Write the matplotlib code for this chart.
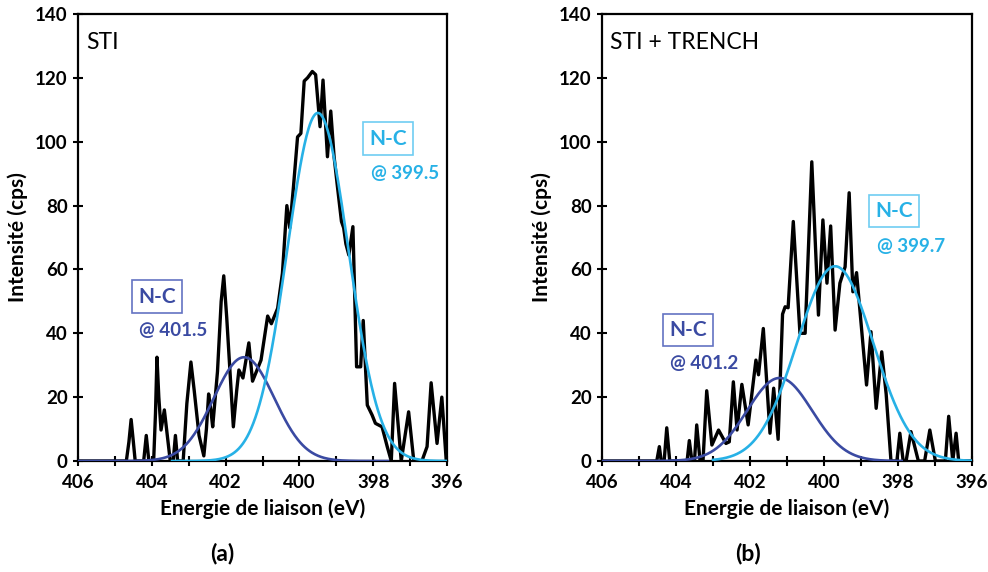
import matplotlib
matplotlib.use("Agg")
import matplotlib.pyplot as plt
import numpy as np

plt.rcParams['font.family'] = ['Lato', 'DejaVu Sans']

# ---------------- data ----------------
# panel (a) STI : raw spectrum
energy_a = [406.0, 404.69, 404.62, 404.56, 404.50, 404.45, 404.22, 404.15, 404.08, 403.95,
            403.90, 403.86, 403.81, 403.75, 403.66, 403.58, 403.50, 403.42, 403.36, 403.30,
            403.15, 403.05, 402.94, 402.85, 402.72, 402.59, 402.52, 402.46, 402.40, 402.35,
            402.22, 402.12, 402.05, 401.97, 401.86, 401.79, 401.70, 401.64, 401.53, 401.37,
            401.27, 401.04, 400.86, 400.76, 400.59, 400.46, 400.34, 400.26, 400.16, 400.05,
            399.96, 399.87, 399.78, 399.65, 399.56, 399.44, 399.36, 399.24, 399.15, 399.06,
            398.97, 398.86, 398.80, 398.74, 398.66, 398.55, 398.45, 398.34, 398.27, 398.16,
            398.03, 397.94, 397.76, 397.62, 397.51, 397.42, 397.24, 397.04, 396.90, 396.68,
            396.54, 396.43, 396.27, 396.14, 396.02]
counts_a = [0, 0, 6, 13, 6, 0, 0, 8, 0, 0,
            15, 32.5, 20, 9.7, 16, 8, 0, 0, 8, 0,
            0, 18, 31, 22, 8, 1.6, 10, 21, 16, 10.7,
            28, 50, 58, 45, 24, 10.7, 22, 28.5, 26, 37,
            25, 31.6, 45.4, 43, 47.8, 58.8, 80, 73, 86, 101.5,
            102.6, 119, 120, 122, 121, 104.7, 119.3, 95.3, 109.6, 95.3,
            86, 75, 73, 68, 64.5, 73.4, 29.5, 29.5, 44, 17.5,
            14.4, 11.8, 10.7, 4.5, 0, 24.3, 0, 15.4, 0, 0,
            4.5, 24.5, 5.5, 20, 0]

# panel (b) STI + TRENCH : raw spectrum
energy_b = [406.0, 404.52, 404.45, 404.40, 404.32, 404.25, 404.17, 403.70, 403.64, 403.57,
            403.50, 403.44, 403.35, 403.27, 403.17, 403.03, 402.85, 402.65, 402.56, 402.45,
            402.35, 402.22, 402.05, 401.84, 401.77, 401.64, 401.46, 401.36, 401.24, 401.12,
            401.05, 400.97, 400.83, 400.65, 400.51, 400.33, 400.15, 400.03, 399.92, 399.82,
            399.70, 399.57, 399.43, 399.32, 399.22, 399.12, 398.85, 398.73, 398.59, 398.44,
            398.32, 398.19, 398.03, 397.95, 397.86, 397.78, 397.65, 397.45, 397.28, 397.14,
            396.99, 396.72, 396.63, 396.52, 396.43, 396.36, 396.0]
counts_b = [0, 0, 4.5, 0, 0, 10.4, 0, 0, 6.4, 0,
            0, 11.3, 0, 0, 22, 5, 9.7, 5.5, 6, 24.8,
            9.7, 24, 11.3, 31.6, 27, 41.5, 8.7, 22.8, 6.8, 46,
            48.3, 48, 75, 40, 40, 93.7, 45.7, 75.5, 55.7, 73.6,
            41, 55.7, 60.8, 84, 53, 59, 23.8, 40.5, 16.5, 34.2,
            21, 0, 0, 8.7, 0, 0, 9.2, 0, 0, 9.7,
            0, 0, 14, 0, 8.7, 0, 0]

# fitted N-C components: (centre eV, height cps, sigma eV, drawn from, drawn to)
fit_a_low = (401.5, 32.5, 0.82, 406.0, 397.6)
fit_a_high = (399.5, 109.0, 0.83, 403.45, 396.0)
fit_b_low = (401.2, 26.0, 0.88, 406.0, 397.9)
fit_b_high = (399.7, 61.0, 1.03, 403.0, 396.0)

panel_titles = ["STI", "STI + TRENCH"]
panel_tags = ["(a)", "(b)"]
xticks = [406, 404, 402, 400, 398, 396]
yticks = [0, 20, 40, 60, 80, 100, 120, 140]

DARK = "#3a4aa2"
LIGHT = "#27b1e6"
DARK_EDGE = "#6473c2"
LIGHT_EDGE = "#6fcdf2"

fig = plt.figure(figsize=(9.88, 5.72), dpi=100)
axA = fig.add_axes([78 / 988, 1 - 461 / 572, 369 / 988, 447 / 572])
axB = fig.add_axes([602 / 988, 1 - 461 / 572, 370 / 988, 447 / 572])


def gauss_curve(params):
    c, h, s, x0, x1 = params
    x = np.linspace(x0, x1, 400)
    return x, h * np.exp(-0.5 * ((x - c) / s) ** 2)


def draw(ax, e, cts, f_low, f_high, title, lbl_low, lbl_high):
    ax.plot(e, cts, color="black", lw=2.4, solid_joinstyle="round", zorder=2)
    x, y = gauss_curve(f_low)
    ax.plot(x, y, color=DARK, lw=1.9, zorder=3)
    x, y = gauss_curve(f_high)
    ax.plot(x, y, color=LIGHT, lw=1.9, zorder=4)
    ax.set_xlim(406, 396)
    ax.set_ylim(0, 140)
    ax.set_xticks(xticks)
    ax.set_xticks(np.arange(396, 407, 1), minor=True)
    ax.set_yticks(yticks)
    ax.tick_params(axis="both", which="both", direction="inout", width=1.5,
                   labelsize=13.5, pad=4)
    ax.tick_params(axis="x", which="both", pad=6)
    ax.tick_params(axis="both", which="major", length=7)
    ax.tick_params(axis="x", which="minor", length=7)
    for lab in ax.get_xticklabels() + ax.get_yticklabels():
        lab.set_fontweight("bold")
    for sp in ax.spines.values():
        sp.set_linewidth(1.6)
    ax.set_xlabel("Energie de liaison (eV)", fontsize=15, fontweight="bold", labelpad=5)
    ax.set_ylabel("Intensité (cps)", fontsize=15, fontweight="bold", labelpad=5)
    ax.text(0.022, 0.96, title, transform=ax.transAxes, fontsize=16.5,
            ha="left", va="top", color="black")
    (xl, yl), (xh, yh) = lbl_low, lbl_high
    ax.text(xl, yl, "N-C", fontsize=15, fontweight="bold", color=DARK, ha="center", va="center",
            bbox=dict(boxstyle="square,pad=0.3", fc="white", ec=DARK_EDGE, lw=1.2), zorder=5)
    ax.text(xl - 0.43, yl - 10.5, "@ " + f"{f_low[0]:.1f}", fontsize=13.5, fontweight="bold",
            color=DARK, ha="center", va="center", zorder=5)
    ax.text(xh, yh, "N-C", fontsize=15, fontweight="bold", color=LIGHT, ha="center", va="center",
            bbox=dict(boxstyle="square,pad=0.3", fc="white", ec=LIGHT_EDGE, lw=1.2), zorder=5)
    ax.text(xh - 0.45, yh - 11, "@ " + f"{f_high[0]:.1f}", fontsize=13.5, fontweight="bold",
            color=LIGHT, ha="center", va="center", zorder=5)


draw(axA, energy_a, counts_a, fit_a_low, fit_a_high, panel_titles[0], (403.86, 51.5), (397.6, 101))
draw(axB, energy_b, counts_b, fit_b_low, fit_b_high, panel_titles[1], (403.68, 41), (398.1, 78.3))

fig.text(222 / 988, 1 - 553 / 572, panel_tags[0], fontsize=16.5, fontweight="bold", ha="center", va="center")
fig.text(748 / 988, 1 - 553 / 572, panel_tags[1], fontsize=16.5, fontweight="bold", ha="center", va="center")

fig.savefig("out.png", dpi=100)
